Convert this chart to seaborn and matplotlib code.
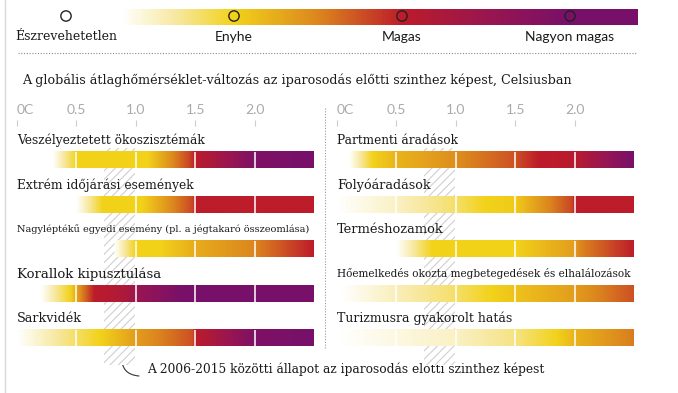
import numpy as np
import matplotlib.pyplot as plt
from matplotlib.lines import Line2D
import seaborn as sns

sns.set_theme(style="white")
plt.rcParams["font.family"] = ["DejaVu Serif", "DejaVu Sans"]
plt.rcParams["hatch.color"] = "#cfcfcf"
plt.rcParams["hatch.linewidth"] = 0.8

# temperature axis (degrees above pre-industrial)
temp_ticks = [0, 0.5, 1.0, 1.5, 2.0]
temp_labels = ["0C", "0.5", "1.0", "1.5", "2.0"]
temp_max = 2.5
recent_span = (0.73, 0.99)  # 2006-2015

# risk scale
risk_levels = [0, 1, 2, 3]
risk_names = ["Észrevehetetlen", "Enyhe", "Magas", "Nagyon magas"]
risk_colors = ["#ffffff", "#f7e79a", "#f2d21a", "#dc861e", "#bd1c2a", "#9a1650", "#78106a"]
legend_ember = [(0.33, 0), (1, 1), (2, 2), (3, 3)]

left_names = ["Veszélyeztetett ökoszisztémák", "Extrém időjárási események",
              "Nagyléptékű egyedi esemény (pl. a jégtakaró összeomlása)",
              "Korallok kipusztulása", "Sarkvidék"]
right_names = ["Partmenti áradások", "Folyóáradások", "Terméshozamok",
               "Hőemelkedés okozta megbetegedések és elhalálozások",
               "Turizmusra gyakorolt hatás"]

# (temperature, risk level) breakpoints
okoszisztemak = [(0.3, 0), (0.5, 1), (1.1, 1), (1.45, 1.8), (1.5, 2), (2.0, 2.9), (2.5, 3)]
extrem_idojaras = [(0.5, 0), (0.72, 1), (1.05, 1), (1.48, 1.8), (1.5, 2), (2.5, 2)]
egyedi_esemeny = [(0.82, 0), (1.0, 1), (1.2, 1), (1.5, 1.25), (2.0, 1.5), (2.5, 2)]
korallok = [(0.2, 0), (0.45, 1), (0.5, 1.3), (0.65, 2), (0.9, 2.2), (1.0, 2.5), (1.4, 3), (2.5, 3)]
sarkvidek = [(0.0, 0), (0.7, 1), (1.0, 1.35), (1.48, 1.75), (1.5, 2), (2.0, 2.9), (2.5, 3)]

partmenti = [(0.1, 0), (0.3, 1), (0.5, 1.2), (1.0, 1.45), (1.5, 1.75), (1.7, 2.0), (2.0, 2.05), (2.5, 3)]
folyoaradas = [(0.0, 0), (0.5, 0.3), (1.0, 0.7), (1.25, 1), (1.5, 1.05), (1.98, 1.8), (2.0, 2), (2.5, 2)]
termeshozam = [(0.5, 0), (0.8, 1), (1.5, 1), (2.0, 1.35), (2.05, 1.5), (2.5, 2)]
hoemelkedes = [(0.03, 0), (0.5, 0.35), (1.0, 0.7), (1.3, 1), (1.5, 1.1), (2.0, 1.35), (2.5, 1.75)]
turizmus = [(0.0, 0), (1.0, 0.3), (1.5, 0.6), (1.85, 1), (2.0, 1.2), (2.5, 1.55)]

left_embers = [okoszisztemak, extrem_idojaras, egyedi_esemeny, korallok, sarkvidek]
right_embers = [partmenti, folyoaradas, termeshozam, hoemelkedes, turizmus]
left_sizes = [8.8, 8.8, 7.0, 9.5, 9.2]
right_sizes = [8.7, 9.2, 9.4, 7.6, 9.0]

ember_cmap = sns.blend_palette(risk_colors, as_cmap=True).copy()
ember_cmap.set_bad((1, 1, 1, 0))

W, H = 678, 393
fig = plt.figure(figsize=(W / 100, H / 100), dpi=100)


def draw_ember(ax, pts, y, half, x_end):
    t = [p[0] for p in pts]
    r = [p[1] for p in pts]
    grid = np.linspace(0, x_end, 700)
    vals = np.interp(grid, t, r)
    vals[grid < t[0]] = np.nan
    ax.imshow(vals[None, :], extent=[0, x_end, y + half, y - half], cmap=ember_cmap,
              vmin=0, vmax=3, aspect="auto", interpolation="bilinear", zorder=2)


# background layer for free text
bg = fig.add_axes([0, 0, 1, 1])
bg.set_xlim(0, W)
bg.set_ylim(H, 0)
bg.axis("off")
bg.axvline(5, color="#d8d8d8", lw=1)
bg.text(22, 80, "A globális átlaghőmérséklet-változás az iparosodás előtti szinthez képest, Celsiusban",
        fontsize=9.2, va="center", color="#1a1a1a")
bg.annotate("", xy=(139, 376), xytext=(122, 356),
            arrowprops=dict(arrowstyle="-", color="#333333", lw=0.8, shrinkA=0, shrinkB=0,
                            connectionstyle="arc3,rad=0.5"))
bg.text(147, 369, "A 2006-2015 közötti állapot az iparosodás előtti szinthez képest",
        fontsize=8.8, va="center", color="#1a1a1a")
fig.add_artist(Line2D([325 / W] * 2, [1 - 108 / H, 1 - 348 / H], transform=fig.transFigure,
                      color="#9a9a9a", lw=0.8, ls=(0, (1, 1.5))))

# legend
leg = fig.add_axes([18 / W, 1 - 60 / H, 619 / W, 60 / H])
leg.set_facecolor("none")
leg.axis("off")
draw_ember(leg, legend_ember, 17, 8, 3.4)
leg.scatter(risk_levels, [16] * 4, s=55, facecolor="none", edgecolor="#222222", lw=1, zorder=3)
for lv, name in zip(risk_levels, risk_names):
    fam = "DejaVu Serif" if lv == 0 else "Lato"
    fs = 9 if lv == 0 else 10
    leg.text(lv, 37, name, ha="center", va="center", fontsize=fs, family=fam, color="#1a1a1a")
leg.axhline(53, color="#8a8a8a", lw=0.8, ls=(0, (1, 1.5)))
leg.set_xlim(-48 / 168, 571 / 168)
leg.set_ylim(60, 0)

# two ember panels
px_per_row = 44.5
top_px, bot_px = 120, 365
for x0, names, embers, sizes in [(17, left_names, left_embers, left_sizes),
                                 (337, right_names, right_embers, right_sizes)]:
    ax = fig.add_axes([x0 / W, 1 - bot_px / H, 297 / W, (bot_px - top_px) / H])
    ax.set_facecolor("none")
    ax.axvspan(*recent_span, ymin=0, ymax=(bot_px - 148) / (bot_px - top_px),
               facecolor="white", edgecolor="#cfcfcf", hatch="////", lw=0, zorder=1)
    for i, (name, pts, fs) in enumerate(zip(names, embers, sizes)):
        draw_ember(ax, pts, i, 0.18, temp_max)
        seps = [t for t in temp_ticks if t > pts[0][0]]
        ax.vlines(seps, i - 0.18, i + 0.18, color="white", lw=1.1, zorder=3)
        ax.text(0, i - 0.44, name, fontsize=fs, va="center", ha="left", color="#1a1a1a", zorder=4)
    ax.set_xlim(0, temp_max)
    ax.set_ylim((bot_px - 160) / px_per_row, (top_px - 160) / px_per_row)
    ax.xaxis.tick_top()
    ax.set_xticks(temp_ticks)
    ax.set_xticklabels(temp_labels)
    ax.set_yticks([])
    ax.tick_params(axis="x", direction="in", length=4, width=0.8, color="#cccccc",
                   pad=3, labelsize=10, labelcolor="#aaaaaa", top=True, bottom=False)
    for lbl in ax.get_xticklabels():
        lbl.set_family("Lato")
    ax.get_xticklabels()[0].set_ha("left")
    for s in ax.spines.values():
        s.set_visible(False)

fig.savefig("out.png", dpi=100)
